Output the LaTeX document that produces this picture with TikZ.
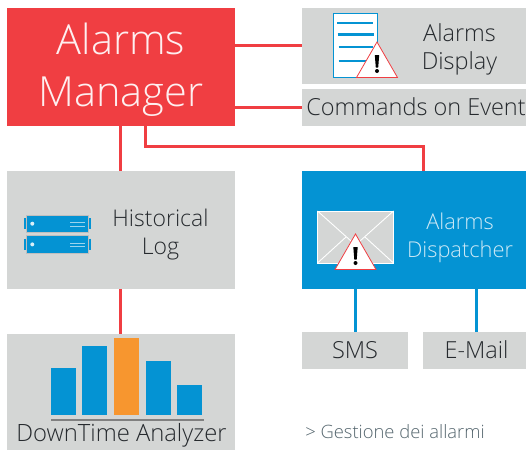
\documentclass[tikz,border=0pt]{standalone}
\usepackage{fontspec}
\usepackage{xcolor}
\setmainfont{Open Sans Light}
\definecolor{AlarmRed}{RGB}{240,62,66}
\definecolor{DispBlue}{RGB}{4,147,211}
\definecolor{BoxGray}{RGB}{212,214,213}
\definecolor{BarOrange}{RGB}{247,150,47}
\definecolor{InkDark}{RGB}{38,42,46}
\definecolor{NoteGray}{RGB}{85,102,110}
\usetikzlibrary{positioning}
\usetikzlibrary{calc}

\newcommand{\labelfont}{\fontsize{23.5}{28}\selectfont}

\begin{document}
\begin{tikzpicture}[
      , x=1pt, y=-1pt
      , on grid
      , box/.style={fill=BoxGray, inner sep=0pt, outer sep=0pt, text=InkDark, font=\labelfont, text height=17pt, text depth=1pt}
      , boxtext/.style={inner sep=0pt, align=center, text=InkDark, font=\labelfont}
      , red-link/.style={color=AlarmRed, line width=3pt}
      , blue-link/.style={color=DispBlue, line width=3pt}
      , pics/warnsign/.style={code={
          \draw[AlarmRed, fill=white, line width=0.8pt, line join=miter] (0,0) -- (20.5,35.5) -- (-20.5,35.5) -- cycle;
          \fill[black] (-2.2,13) -- (2.2,13) -- (1.2,25.5) -- (-1.2,25.5) -- cycle;
          \fill[black] (0,29) circle (2);
      }}
      ]

      \useasboundingbox (0,0) rectangle (526,450);

      \node[fill=AlarmRed, inner sep=0pt, outer sep=0pt, minimum width=228pt, minimum height=118pt] (manager) at (121,67) {};
      \node[box, minimum width=228pt, minimum height=118pt, below = 163pt of manager] (historical) {};
      \node[box, minimum width=228pt, minimum height=116pt, below = 162pt of historical] (analyzer) {};

      \node[box, minimum width=224pt, minimum height=76pt] (display) at (414,46) {};
      \node[box, minimum width=224pt, minimum height=37pt, below = 61.5pt of display] (commands) {\hspace{4pt}Commands on Event};
      \node[fill=DispBlue, inner sep=0pt, outer sep=0pt, minimum width=224pt, minimum height=118pt] (dispatcher) at (414,230) {};

      \node[box, minimum width=106pt, minimum height=37pt] (sms) at (355,350.5) {SMS};
      \node[box, minimum width=103pt, minimum height=37pt, right = 119.5pt of sms] (email) {\hspace{4pt}E-Mail};

      \node[inner sep=0pt, align=center, text=white!92!AlarmRed, font=\fontsize{41.5}{52}\selectfont] (manager-text) at (121,70) {Alarms\\Manager};
      \node[boxtext] (display-text) at (459.5,49) {Alarms\\Display};
      \node[boxtext, font=\fontsize{23}{28}\selectfont] (historical-text) at (160.5,235) {Historical\\Log};
      \node[boxtext, text=white!80!DispBlue, font=\fontsize{21.8}{28}\selectfont] (dispatcher-text) at (460,238) {Alarms\\Dispatcher};
      \node[boxtext, font=\fontsize{23.8}{28}\selectfont] (analyzer-text) at (121.5,435) {DownTime Analyzer};
      \node[inner sep=0pt, text=NoteGray, font=\fontsize{18.4}{20}\selectfont] (note) at (395,432) {> Gestione dei allarmi};

      % connectors
      \coordinate (to-display) at (235,45);
      \coordinate (to-commands) at (235,107);
      \coordinate (to-dispatcher) at (145,126);
      \coordinate (to-dispatcher-top) at (423,171);
      \coordinate (to-sms) at (355,289);
      \coordinate (to-email) at (476,289);

      \draw[red-link] (to-display) -- (to-display -| display.west);
      \draw[red-link] (to-commands) -- (to-commands -| commands.west);
      \draw[red-link] ([xshift=-1pt]manager.south) -- ([xshift=-1pt]historical.north);
      \draw[red-link] ([xshift=-1pt]historical.south) -- ([xshift=-1pt]analyzer.north);
      \draw[red-link] (to-dispatcher) |- (to-dispatcher-top |- 0,146) -- (to-dispatcher-top);
      \draw[blue-link] (to-sms) -- (to-sms |- sms.north);
      \draw[blue-link] (to-email) -- (to-email |- email.north);

      % page icon
      \draw[DispBlue, fill=white, line width=0.7pt] (333.3,13) rectangle (377.7,77.5);
      \foreach \ly/\lx/\lend in {23/337/373, 34.5/337.5/373.5, 47/338.5/373, 61/338.5/368}
        \draw[DispBlue, line width=2.6pt] (\lx,\ly) -- (\lend,\ly);
      \pic at (377,42) {warnsign};

      % envelope icon
      \draw[white, fill=BoxGray, line width=0.9pt] (317.5,211) rectangle (393.5,263);
      \draw[white, line width=0.9pt] (317.5,211) -- (355.5,245) -- (393.5,211);
      \draw[white, line width=0.9pt] (317.5,263) -- (346,237);
      \draw[white, line width=0.9pt] (393.5,263) -- (365,237);
      \pic at (355.5,234) {warnsign};

      % server icon
      \foreach \ry in {215,235.7} {
        \draw[DispBlue, line width=1.6pt] (25,\ry+3) -- (25,\ry+14);
        \draw[DispBlue, line width=1.6pt] (90,\ry+3) -- (90,\ry+14);
        \draw[lightgray, fill=DispBlue, line width=0.6pt] (26.7,\ry) rectangle (88.3,\ry+17.5);
        \fill[white!85!DispBlue] (32.3,\ry+8.7) circle (2);
        \draw[white!60!DispBlue, line width=0.6pt] (70,\ry+7.5) -- (85,\ry+7.5);
        \draw[white!60!DispBlue, line width=0.6pt] (70,\ry+11) -- (85,\ry+11);
      }

      % bar chart
      \foreach \bx/\bt/\bc in {51/368/DispBlue, 82/346/DispBlue, 114/338/BarOrange, 146/361/DispBlue, 177/385/DispBlue}
        \fill[\bc] (\bx,\bt) rectangle (\bx+25,415);
      \draw[gray, line width=1.7pt] (51,419.7) -- (204,419.7);
    \end{tikzpicture}
\end{document}
